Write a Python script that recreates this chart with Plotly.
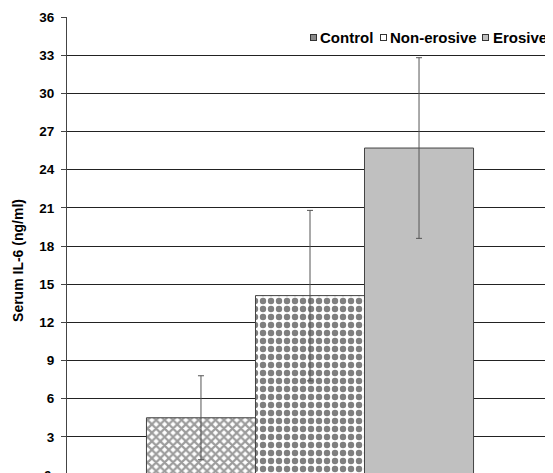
import plotly.graph_objects as go

categories = ["Control", "Non-erosive", "Erosive"]
means = [4.5, 14.1, 25.7]
sds = [3.3, 6.7, 7.1]
y_ticks = [3, 6, 9, 12, 15, 18, 21, 24, 27, 30, 33, 36]
y_title = "Serum IL-6 (ng/ml)"

FONT = "Liberation Sans, Arial, sans-serif"

fills = [
    dict(color="white", pattern=dict(shape="x", fgcolor="#3a3a3a", bgcolor="white", size=6, solidity=0.6)),
    dict(color="white", pattern=dict(shape=".", fgcolor="black", bgcolor="white", size=8, solidity=0.5)),
    dict(color="#c0c0c0"),
]
swatch_colors = ["#8a8a8a", "white", "#c0c0c0"]

fig = go.Figure()
for name, m, s, f in zip(categories, means, sds, fills):
    marker = dict(line=dict(color="#444444", width=1))
    marker.update(f)
    fig.add_trace(go.Bar(
        x=["IL-6"], y=[m], name=name, marker=marker, showlegend=False,
        error_y=dict(type="data", array=[s], color="#555555", thickness=1, width=3),
    ))

# the page body adds an 8px offset, so the figure is 8px smaller than the window
fig.update_layout(
    width=545, height=465,
    margin=dict(l=59, r=0, t=9, b=0),
    paper_bgcolor="white", plot_bgcolor="white",
    barmode="group", bargap=0.327, bargroupgap=0,
    font=dict(family=FONT, size=13.5, color="black"),
    xaxis=dict(showticklabels=False, showgrid=False, zeroline=False, showline=False, ticks=""),
    yaxis=dict(range=[0.157, 36], tickvals=y_ticks, ticktext=[f"<b>{v}</b>" for v in y_ticks],
               showgrid=True, gridcolor="#222222", gridwidth=1, zeroline=False,
               showline=True, linecolor="#444444", linewidth=1,
               ticks="outside", ticklen=5, tickcolor="#444444",
               tickfont=dict(size=13.5), ticklabelstandoff=4, automargin=False),
)
# partially visible zero label at the cropped bottom
fig.add_annotation(xref="paper", yref="paper", x=0, y=0, text="<b>0</b>", showarrow=False,
                   xanchor="right", yanchor="middle", xshift=-13, yshift=-2,
                   font=dict(size=13.5))
# y-axis title
fig.add_annotation(xref="paper", yref="paper", x=0, y=0.465, text=f"<b>{y_title}</b>",
                   showarrow=False, textangle=-90, xanchor="center", yanchor="middle",
                   xshift=-49, font=dict(size=14))
# compact legend
leg_y = 0.956
sw_x = [0.5082, 0.6512, 0.8611]
tx_x = [0.5185, 0.6626, 0.8745]
for name, sc, sx, tx in zip(categories, swatch_colors, sw_x, tx_x):
    fig.add_annotation(xref="paper", yref="paper", x=sx, y=leg_y, text=" ", showarrow=False,
                       width=5, height=5, bgcolor=sc, bordercolor="#333333", borderwidth=1,
                       borderpad=0, font=dict(size=4), xanchor="center", yanchor="middle")
    fig.add_annotation(xref="paper", yref="paper", x=tx, y=leg_y, text=f"<b>{name}</b>",
                       showarrow=False, xanchor="left", yanchor="middle",
                       font=dict(size=15), borderpad=0)
fig.write_html("out.html")
